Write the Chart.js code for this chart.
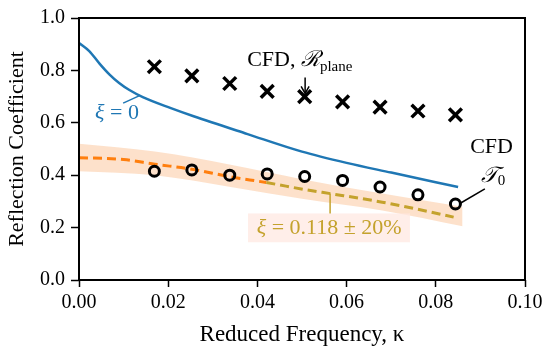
<!DOCTYPE html>
<html>
<head>
<meta charset="utf-8">
<script src="https://cdn.jsdelivr.net/npm/chart.js@4"></script>
<style>
  body { margin: 0; background: #fff; }
  #wrap { width: 550px; height: 353px; position: relative; }
</style>
</head>
<body>
<div id="wrap"><canvas id="grafico"></canvas></div>
<script>
// Datos
const kappaCFD = [0.0169, 0.0253, 0.0338, 0.0422, 0.0506, 0.0591, 0.0675, 0.0760, 0.0844];
const cfdPlane = [0.814, 0.779, 0.75, 0.72, 0.70, 0.68, 0.66, 0.645, 0.63];
const cfdT0 = [0.415, 0.42, 0.40, 0.405, 0.395, 0.38, 0.355, 0.325, 0.29];

const kappaXi0 = [0, 0.0023, 0.0046, 0.0068, 0.009, 0.0113, 0.0143, 0.0206, 0.0257, 0.0378, 0.05, 0.06, 0.07, 0.085];
const xi0 = [0.905, 0.874, 0.826, 0.785, 0.752, 0.725, 0.698, 0.656, 0.625, 0.557, 0.49, 0.447, 0.41, 0.355];

const kappaFit = [0, 0.01, 0.017, 0.0253, 0.0339, 0.042, 0.051, 0.057, 0.068, 0.0757, 0.084];
const xiFit = [0.467, 0.46, 0.442, 0.423, 0.394, 0.372, 0.344, 0.328, 0.297, 0.271, 0.24];

const kappaBand = [0, 0.017, 0.034, 0.05, 0.068, 0.086];
const bandUpper = [0.52, 0.49, 0.44, 0.385, 0.33, 0.28];
const bandLower = [0.415, 0.40, 0.355, 0.31, 0.265, 0.205];

const xTicks = [0, 0.02, 0.04, 0.06, 0.08, 0.10];
const yTicks = [0, 0.2, 0.4, 0.6, 0.8, 1.0];

const azul = '#1f77b4';
const naranja = '#ff7f0e';
const dorado = '#c4a22c';
const serif = '"Liberation Serif", "DejaVu Serif", serif';

const pares = (xs, ys) => xs.map((v, i) => ({ x: v, y: ys[i] }));

// Texto con varias fuentes en una línea
function dibujarTexto(ctx, partes, x, y, color, centrar) {
  let ancho = 0;
  partes.forEach(p => { ctx.font = p.font; ancho += ctx.measureText(p.t).width; });
  let cx = centrar ? x - ancho / 2 : x;
  ctx.fillStyle = color;
  ctx.textBaseline = 'middle';
  ctx.textAlign = 'left';
  partes.forEach(p => {
    ctx.font = p.font;
    ctx.fillText(p.t, cx, y + (p.dy || 0));
    cx += ctx.measureText(p.t).width;
  });
  return ancho;
}

const anotaciones = {
  id: 'anotaciones',
  afterDatasetsDraw(chart) {
    const { ctx, scales: { x, y } } = chart;
    const px = v => x.getPixelForValue(v);
    const py = v => y.getPixelForValue(v);
    const f = s => s + 'px ' + serif;
    const fi = s => 'italic ' + s + 'px ' + serif;
    ctx.save();

    // xi = 0
    ctx.strokeStyle = azul; ctx.lineWidth = 1.5;
    ctx.beginPath(); ctx.moveTo(px(0.0099), py(0.675)); ctx.lineTo(px(0.0137), py(0.7045)); ctx.stroke();
    dibujarTexto(ctx, [{ t: 'ξ', font: fi(22) }, { t: ' = 0', font: f(22) }], px(0.0036), py(0.636), azul, false);

    // CFD, R_plane
    dibujarTexto(ctx, [{ t: 'CFD, ', font: f(22) }, { t: 'ℛ', font: fi(22) }, { t: 'plane', font: f(15), dy: 6 }],
      px(0.0377), py(0.837), '#000', false);
    ctx.strokeStyle = '#000'; ctx.lineWidth = 1.5;
    const ax = px(0.0507), a0 = py(0.773), a1 = py(0.712);
    ctx.beginPath(); ctx.moveTo(ax, a0); ctx.lineTo(ax, a1); ctx.stroke();
    ctx.beginPath(); ctx.moveTo(ax - 4, a1 - 7); ctx.lineTo(ax, a1); ctx.lineTo(ax + 4, a1 - 7); ctx.stroke();

    // CFD T0
    dibujarTexto(ctx, [{ t: 'CFD', font: f(22) }], px(0.0925), py(0.508), '#000', true);
    dibujarTexto(ctx, [{ t: '𝒯', font: fi(22) }, { t: '0', font: f(15), dy: 5 }], px(0.0928), py(0.398), '#000', true);
    ctx.beginPath(); ctx.moveTo(px(0.091), py(0.348)); ctx.lineTo(px(0.0854), py(0.292)); ctx.stroke();

    // xi = 0.118 +- 20%
    ctx.fillStyle = 'rgba(255, 232, 226, 0.75)';
    ctx.fillRect(px(0.0379), py(0.254), px(0.0742) - px(0.0379), py(0.144) - py(0.254));
    ctx.strokeStyle = dorado;
    ctx.beginPath(); ctx.moveTo(px(0.0563), py(0.33)); ctx.lineTo(px(0.0563), py(0.254)); ctx.stroke();
    dibujarTexto(ctx, [{ t: 'ξ', font: fi(22) }, { t: ' = 0.118 ± 20%', font: f(22) }], px(0.0561), py(0.197), dorado, true);

    ctx.restore();
  }
};

// Marco completo del área
const marco = {
  id: 'marco',
  afterDraw(chart) {
    const { ctx, chartArea: a } = chart;
    ctx.save();
    ctx.strokeStyle = '#000'; ctx.lineWidth = 2;
    ctx.strokeRect(a.left, a.top, a.right - a.left, a.bottom - a.top);
    ctx.restore();
  }
};

const ctxG = document.getElementById('grafico').getContext('2d');
new Chart(ctxG, {
  type: 'line',
  data: {
    datasets: [
      {
        label: 'CFD Rplane', data: pares(kappaCFD, cfdPlane), showLine: false,
        pointStyle: 'crossRot', pointRadius: 9, pointBorderWidth: 3.5,
        borderColor: '#000', backgroundColor: '#000', order: 1
      },
      {
        label: 'CFD T0', data: pares(kappaCFD, cfdT0), showLine: false,
        pointStyle: 'circle', pointRadius: 5, pointBorderWidth: 3,
        borderColor: '#000', backgroundColor: 'rgba(0,0,0,0)', order: 2
      },
      {
        label: 'xi = 0', data: pares(kappaXi0, xi0), borderColor: azul, borderWidth: 2.5,
        pointRadius: 0, cubicInterpolationMode: 'monotone', fill: false, order: 3
      },
      {
        label: 'xi = 0.118', data: pares(kappaFit, xiFit), borderColor: naranja, borderWidth: 3,
        borderDash: [9, 5], pointRadius: 0, cubicInterpolationMode: 'monotone', fill: false, order: 4,
        segment: { borderColor: c => c.p0.parsed.x >= 0.042 ? dorado : naranja }
      },
      {
        label: 'banda sup', data: pares(kappaBand, bandUpper), borderWidth: 0, borderColor: 'rgba(0,0,0,0)',
        pointRadius: 0, cubicInterpolationMode: 'monotone', fill: '+1',
        backgroundColor: 'rgba(252, 200, 160, 0.55)', order: 5
      },
      {
        label: 'banda inf', data: pares(kappaBand, bandLower), borderWidth: 0, borderColor: 'rgba(0,0,0,0)',
        pointRadius: 0, cubicInterpolationMode: 'monotone', fill: false, order: 6
      }
    ]
  },
  options: {
    responsive: true,
    maintainAspectRatio: false,
    animation: false,
    layout: { padding: { top: 16, right: 25, left: 0, bottom: 0 } },
    plugins: { legend: { display: false }, tooltip: { enabled: false } },
    scales: {
      x: {
        type: 'linear', min: 0, max: 0.1,
        afterFit: s => { s.height = 73; },
        afterBuildTicks: s => { s.ticks = xTicks.map(v => ({ value: v })); },
        ticks: { color: '#000', font: { family: serif, size: 20 }, padding: 4, maxRotation: 0,
                 callback: v => Number(v).toFixed(2) },
        grid: { drawOnChartArea: false, drawTicks: true, tickLength: 7, tickWidth: 1.5, tickColor: '#000' },
        border: { display: false },
        title: { display: true, text: 'Reduced Frequency, κ', color: '#000',
                 font: { family: serif, size: 23 }, padding: { top: 0, bottom: 4 } }
      },
      y: {
        type: 'linear', min: 0, max: 1,
        afterFit: s => { s.width = 79; },
        afterBuildTicks: s => { s.ticks = yTicks.map(v => ({ value: v })); },
        ticks: { color: '#000', font: { family: serif, size: 20 }, padding: 6,
                 callback: v => Number(v).toFixed(1) },
        grid: { drawOnChartArea: false, drawTicks: true, tickLength: 8, tickWidth: 1.5, tickColor: '#000' },
        border: { display: false },
        title: { display: true, text: 'Reflection Coefficient', color: '#000',
                 font: { family: serif, size: 22 }, padding: { top: 4, bottom: 0 } }
      }
    }
  },
  plugins: [anotaciones, marco]
});
</script>
</body>
</html>
